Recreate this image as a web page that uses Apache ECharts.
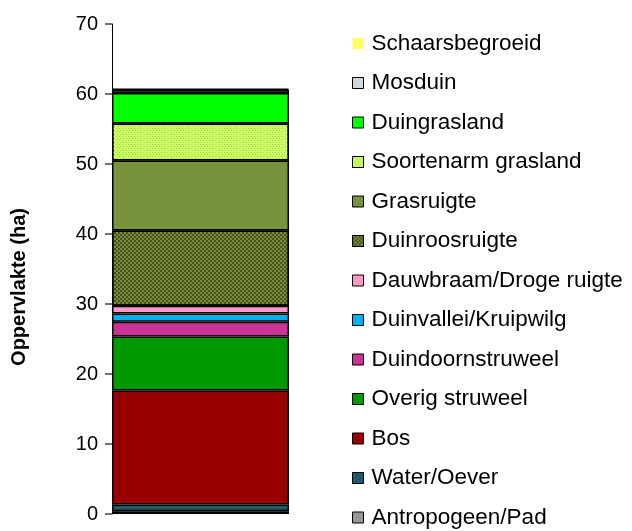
<!DOCTYPE html>
<html>
<head>
<meta charset="utf-8">
<script src="https://cdn.jsdelivr.net/npm/echarts@6/dist/echarts.min.js"></script>
<style>
  html, body { margin: 0; padding: 0; background: #fff; }
  #chart { width: 632px; height: 531px; }
</style>
</head>
<body>
<div id="chart"></div>
<script>
// Area per vegetation type (ha), stacked from the bottom up
const categories = [''];
const seriesNames = [
  'Antropogeen/Pad', 'Water/Oever', 'Bos', 'Overig struweel', 'Duindoornstruweel',
  'Duinvallei/Kruipwilg', 'Dauwbraam/Droge ruigte', 'Duinroosruigte', 'Grasruigte',
  'Soortenarm grasland', 'Duingrasland', 'Mosduin', 'Schaarsbegroeid'
];
const areaValues = [0.4, 0.95, 16.3, 7.7, 2.1, 1.2, 1.1, 10.75, 10.0, 5.3, 4.35, 0.45, 0.15];
const seriesColors = [
  '#969696', '#215a69', '#990000', '#009900', '#cc3399',
  '#00b0f0', '#ff99cc', '#7a8e3c', '#77933c',
  '#ccff66', '#00ff00', '#cfd8dc', '#ffff66'
];
const yTicks = { min: 0, max: 70, interval: 10 };
const yAxisTitle = 'Oppervlakte (ha)';

// Textures for the two patterned fills
const decals = {
  'Duinroosruigte': {
    symbol: 'rect', symbolSize: 1, color: '#44521e',
    dashArrayX: [[2, 2], [0, 2, 2, 0]], dashArrayY: [2, 0], rotation: 0
  },
  'Soortenarm grasland': {
    symbol: 'rect', symbolSize: 1, color: '#a8d040',
    dashArrayX: [[1, 2], [0, 2, 1, 0]], dashArrayY: [1, 1], rotation: 0
  }
};

const series = seriesNames.map((name, i) => ({
  name: name,
  type: 'bar',
  stack: 'total',
  barWidth: '100%',
  data: [areaValues[i]],
  itemStyle: Object.assign(
    { color: seriesColors[i], borderColor: '#000', borderWidth: 1.5 },
    decals[name] ? { decal: decals[name] } : {}
  ),
  emphasis: { disabled: true }
}));

const legendData = seriesNames.slice().reverse().map(name => ({
  name: name,
  itemStyle: name === 'Schaarsbegroeid'
    ? { borderWidth: 0, decal: 'none' }
    : { borderColor: '#000', borderWidth: 1 }
}));

const chart = echarts.init(document.getElementById('chart'));
chart.setOption({
  animation: false,
  backgroundColor: '#fff',
  textStyle: { fontFamily: 'Liberation Sans, Arial, sans-serif' },
  grid: { left: 112, top: 24, width: 177, bottom: 17, containLabel: false },
  xAxis: {
    type: 'category',
    data: categories,
    axisLine: { show: false },
    axisTick: { show: false },
    axisLabel: { show: false }
  },
  yAxis: {
    type: 'value',
    min: yTicks.min,
    max: yTicks.max,
    interval: yTicks.interval,
    axisLine: { show: true, lineStyle: { color: '#000', width: 1 } },
    axisTick: { show: true, inside: false, length: 7, lineStyle: { color: '#444', width: 1.5 } },
    axisLabel: { color: '#000', fontSize: 20, margin: 14, fontFamily: 'Liberation Sans, Arial, sans-serif' },
    splitLine: { show: false }
  },
  legend: {
    orient: 'vertical',
    left: 352,
    top: 32,
    height: 520,
    padding: 0,
    itemWidth: 11,
    itemHeight: 11,
    itemGap: 16.5,
    icon: 'rect',
    selectedMode: false,
    data: legendData,
    textStyle: {
      color: '#000', fontSize: 22.5, padding: [0, 0, 0, 3],
      fontFamily: 'Liberation Sans, Arial, sans-serif'
    }
  },
  graphic: [{
    type: 'text',
    x: 19,
    y: 287,
    rotation: Math.PI / 2,
    style: {
      text: yAxisTitle,
      fill: '#000',
      font: 'bold 20px "Liberation Sans", Arial, sans-serif',
      align: 'center',
      verticalAlign: 'middle'
    }
  }],
  series: series
});
</script>
</body>
</html>
